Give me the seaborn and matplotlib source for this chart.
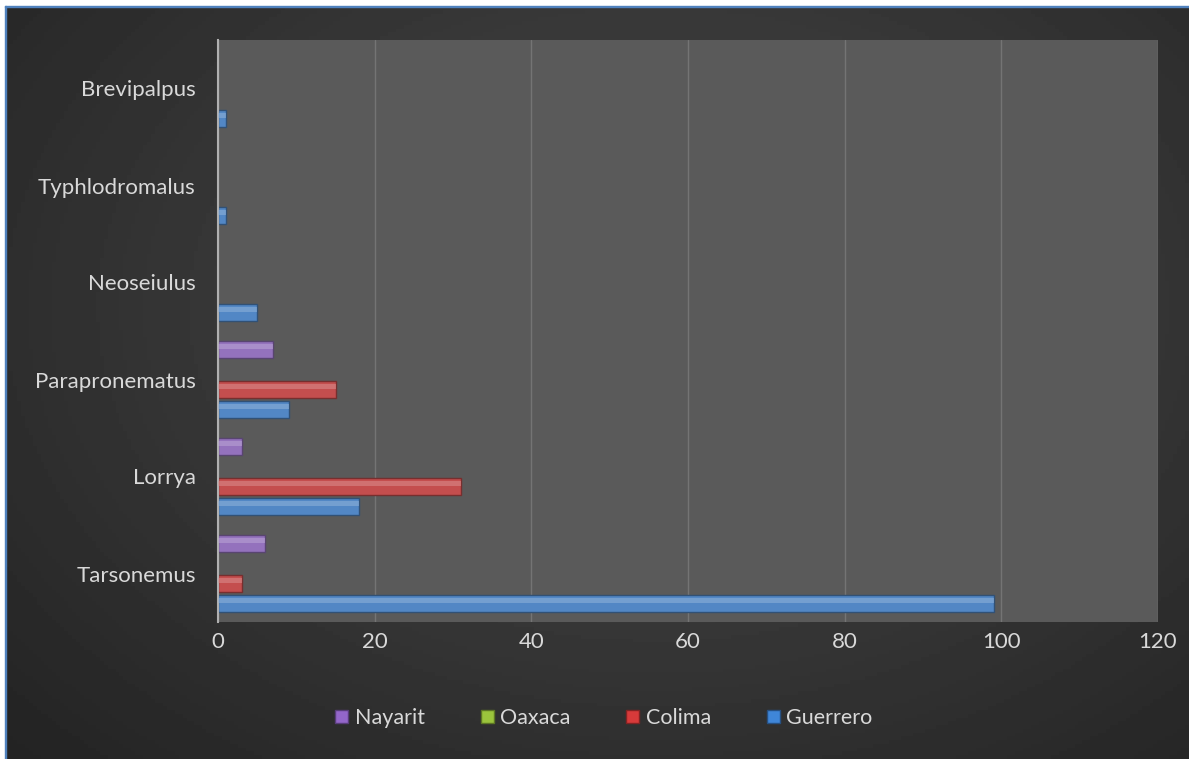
import numpy as np
import pandas as pd
import matplotlib
matplotlib.use("Agg")
import matplotlib.pyplot as plt
import matplotlib.colors as mcolors
from matplotlib.patches import Rectangle
import seaborn as sns

# data
genera = ["Brevipalpus", "Typhlodromalus", "Neoseiulus", "Parapronematus", "Lorrya", "Tarsonemus"]
states = ["Nayarit", "Oaxaca", "Colima", "Guerrero"]
nayarit = [0, 0, 0, 7, 3, 6]
oaxaca = [0, 0, 0, 0, 0, 0]
colima = [0, 0, 0, 15, 31, 3]
guerrero = [1, 1, 5, 9, 18, 99]
xticks = [0, 20, 40, 60, 80, 100, 120]

palette = {"Nayarit": "#9366c9", "Oaxaca": "#9bc43c", "Colima": "#d83a3a", "Guerrero": "#3f86d8"}

rows = []
for state, vals in zip(states, [nayarit, oaxaca, colima, guerrero]):
    for g, v in zip(genera, vals):
        rows.append({"genus": g, "state": state, "count": v})
df = pd.DataFrame(rows)

sns.set_style("dark")
plt.rcParams['font.family'] = ['Lato', 'DejaVu Sans']

W, H = 1189, 759
fig = plt.figure(figsize=(W / 100, H / 100), dpi=100, facecolor="white")

# dark gradient background with a thin blue border on the left/top
bg = fig.add_axes([5 / W, 0, 1 - 5 / W, 1 - 6 / H])
yy, xx = np.mgrid[0:1:200j, 0:1:300j]
r = np.sqrt(((xx - 0.55) / 0.8) ** 2 + ((yy - 0.4) / 0.9) ** 2)
shade = np.clip(0.29 - 0.16 * r, 0.14, 0.29)
bg.imshow(shade, cmap="gray", vmin=0, vmax=1, aspect="auto", extent=[0, 1, 0, 1])
bg.set_axis_off()
fig.add_artist(Rectangle((5 / W, 0), 1.2 / W, 1 - 6 / H, transform=fig.transFigure,
                         color="#4f81bd", zorder=5))
fig.add_artist(Rectangle((5 / W, 1 - 7 / H), 1 - 5 / W, 1.2 / H, transform=fig.transFigure,
                         color="#4f81bd", zorder=5))

ax = fig.add_axes([218 / W, 1 - 622 / H, (1158 - 218) / W, (622 - 40) / H])
ax.set_facecolor("#5a5a5a")

sns.barplot(data=df, x="count", y="genus", hue="state", order=genera, hue_order=states,
            palette=palette, width=0.825, gap=0.15, orient="h", ax=ax, legend=False)

# simple bevel look: darker edge plus a light stripe on top of each bar
for cont in ax.containers:
    for p in cont.patches:
        w = p.get_width()
        if w <= 0:
            p.set_visible(False)
            continue
        base = np.array(mcolors.to_rgb(p.get_facecolor()))
        p.set_edgecolor(tuple(base * 0.6))
        p.set_linewidth(1.0)
        x0, y0, h = p.get_x(), p.get_y(), p.get_height()
        light = tuple(np.clip(base * 0.6 + 0.4, 0, 1))
        ax.add_patch(Rectangle((x0, y0 + h * 0.15), w, h * 0.3, facecolor=light,
                               edgecolor="none", alpha=0.5, zorder=3))

ax.set_xlim(0, 120)
ax.set_xticks(xticks)
ax.set_xlabel("")
ax.set_ylabel("")
ax.grid(axis="x", color="#747474", linewidth=1)
ax.grid(axis="y", visible=False)
ax.set_axisbelow(True)
for s in ["top", "right", "bottom"]:
    ax.spines[s].set_visible(False)
ax.spines["left"].set_color("#b0b0b0")
ax.spines["left"].set_linewidth(1.5)
ax.tick_params(axis="both", length=0, colors="#d9d9d9", labelsize=16)
ax.tick_params(axis="x", pad=7)
ax.tick_params(axis="y", pad=16)

handles = [Rectangle((0, 0), 1, 1, facecolor=palette[s],
                     edgecolor=tuple(np.array(mcolors.to_rgb(palette[s])) * 0.6)) for s in states]
leg = fig.legend(handles, states, loc="center", bbox_to_anchor=(0.508, 1 - 718 / H), ncol=4,
                 frameon=False, fontsize=15.5, handlelength=0.6, handleheight=0.6,
                 columnspacing=2.6, handletextpad=0.3)
for t in leg.get_texts():
    t.set_color("#d9d9d9")

fig.savefig("out.png", dpi=100, facecolor=fig.get_facecolor())
